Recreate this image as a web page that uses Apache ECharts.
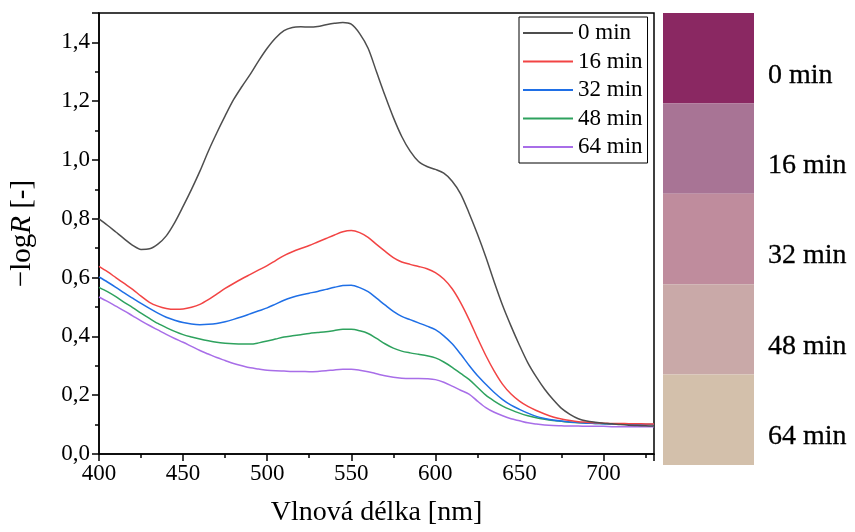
<!DOCTYPE html>
<html>
<head>
<meta charset="utf-8">
<script src="https://cdn.jsdelivr.net/npm/echarts@6/dist/echarts.min.js"></script>
<style>
  html, body { margin: 0; padding: 0; background: #fff; }
  #chart { width: 855px; height: 532px; }
</style>
</head>
<body>
<div id="chart"></div>
<script>
// Wavelength grid [nm]
const wavelengths = [400,405,410,415,420,425,430,435,440,445,450,455,460,465,470,475,480,485,490,495,
  500,505,510,515,520,525,530,535,540,545,550,555,560,565,570,575,580,585,590,595,
  600,605,610,615,620,625,630,635,640,645,650,655,660,665,670,675,680,685,690,695,
  700,705,710,715,720,725,730];

// -logR spectra after each exposure time
const min0 = [0.800,0.778,0.755,0.732,0.710,0.696,0.698,0.714,0.742,0.787,0.842,0.900,0.962,1.030,1.092,1.150,1.205,1.250,1.292,1.338,
  1.380,1.415,1.440,1.451,1.453,1.452,1.454,1.460,1.465,1.468,1.462,1.430,1.380,1.300,1.220,1.145,1.080,1.030,0.995,0.978,
  0.968,0.955,0.928,0.885,0.820,0.748,0.670,0.585,0.505,0.435,0.370,0.310,0.262,0.220,0.185,0.155,0.135,0.120,0.112,0.108,
  0.105,0.103,0.100,0.098,0.097,0.096,0.095];
const min16 = [0.638,0.620,0.600,0.580,0.560,0.537,0.516,0.503,0.495,0.492,0.493,0.499,0.509,0.525,0.544,0.563,0.580,0.596,0.611,0.626,
  0.641,0.658,0.675,0.688,0.699,0.709,0.721,0.733,0.745,0.756,0.760,0.753,0.737,0.713,0.690,0.668,0.653,0.645,0.638,0.630,
  0.617,0.595,0.562,0.515,0.458,0.395,0.335,0.282,0.237,0.204,0.180,0.162,0.148,0.136,0.126,0.119,0.114,0.110,0.108,0.106,
  0.105,0.104,0.104,0.103,0.103,0.102,0.102];
const min32 = [0.602,0.585,0.567,0.548,0.530,0.512,0.495,0.479,0.465,0.455,0.447,0.442,0.440,0.441,0.444,0.450,0.458,0.467,0.477,0.487,
  0.497,0.510,0.523,0.533,0.541,0.547,0.553,0.560,0.567,0.573,0.574,0.566,0.552,0.530,0.507,0.485,0.468,0.457,0.446,0.435,
  0.423,0.402,0.375,0.340,0.302,0.267,0.237,0.209,0.185,0.166,0.152,0.139,0.128,0.121,0.116,0.112,0.109,0.107,0.105,0.104,
  0.103,0.102,0.102,0.101,0.101,0.100,0.100];
const min48 = [0.567,0.552,0.535,0.516,0.498,0.479,0.461,0.444,0.430,0.417,0.406,0.398,0.391,0.385,0.380,0.377,0.375,0.374,0.374,0.378,
  0.384,0.391,0.398,0.402,0.406,0.410,0.413,0.416,0.420,0.424,0.424,0.419,0.410,0.393,0.375,0.360,0.350,0.344,0.339,0.334,
  0.327,0.313,0.295,0.274,0.254,0.227,0.200,0.180,0.163,0.150,0.139,0.130,0.123,0.118,0.114,0.111,0.108,0.106,0.105,0.104,
  0.103,0.102,0.102,0.101,0.101,0.100,0.100];
const min64 = [0.534,0.519,0.503,0.487,0.470,0.453,0.437,0.422,0.407,0.393,0.380,0.366,0.352,0.340,0.328,0.318,0.308,0.300,0.293,0.289,
  0.285,0.283,0.282,0.281,0.281,0.280,0.281,0.283,0.286,0.288,0.288,0.285,0.280,0.273,0.266,0.261,0.258,0.257,0.257,0.256,
  0.253,0.244,0.231,0.217,0.204,0.180,0.158,0.142,0.130,0.120,0.113,0.106,0.102,0.099,0.097,0.096,0.095,0.095,0.094,0.094,
  0.094,0.093,0.093,0.093,0.093,0.093,0.093];

const seriesNames = ['0 min','16 min','32 min','48 min','64 min'];
const lineColors  = ['#4e4e4e','#f24444','#1f6fe6','#2ea25e','#a86ee8'];

// Sample colours after each exposure time
const swatchLabels = ['0 min','16 min','32 min','48 min','64 min'];
const swatchColors = ['#8a2862','#a87495','#bf8c9d','#c9a9a8','#d3c0ab'];

const spectra = [min0, min16, min32, min48, min64];
const serif = '"Liberation Serif", "Times New Roman", serif';

const lineSeries = spectra.map((vals, i) => ({
  name: seriesNames[i],
  type: 'line',
  xAxisIndex: 0,
  yAxisIndex: 0,
  smooth: 0.3,
  symbol: 'none',
  showSymbol: false,
  lineStyle: { color: lineColors[i], width: 1.5 },
  itemStyle: { color: lineColors[i] },
  data: wavelengths.map((w, j) => [w, vals[j]]),
  z: 5 - i
}));

const chart = echarts.init(document.getElementById('chart'), null, { renderer: 'canvas' });

chart.setOption({
  backgroundColor: '#ffffff',
  animation: false,
  textStyle: { fontFamily: serif, color: '#000' },
  grid: [
    { left: 98, right: 201, top: 13, bottom: 72, show: true, borderColor: '#000', borderWidth: 1.5, backgroundColor: 'transparent' },
    { left: 663, width: 91, top: 13, height: 452 }
  ],
  legend: {
    data: seriesNames,
    orient: 'vertical',
    left: 519,
    top: 17,
    padding: [4.5, 5, 4.5, 4],
    itemGap: 5.5,
    itemWidth: 50,
    itemHeight: 2,
    icon: 'rect',
    borderColor: '#000',
    borderWidth: 1,
    backgroundColor: '#fff',
    textStyle: { fontFamily: serif, fontSize: 23, color: '#000', lineHeight: 23 }
  },
  xAxis: [
    {
      gridIndex: 0,
      type: 'value',
      min: 400,
      max: 730,
      interval: 50,
      name: 'Vlnová délka [nm]',
      nameLocation: 'middle',
      nameGap: 45,
      nameTextStyle: { fontFamily: serif, fontSize: 28, color: '#000' },
      axisLine: { show: true, onZero: false, lineStyle: { color: '#000', width: 1.5 } },
      axisTick: { show: true, inside: false, length: 7, lineStyle: { color: '#000', width: 1.5 } },
      minorTick: { show: true, splitNumber: 2, length: 4, lineStyle: { color: '#000', width: 1.5 } },
      splitLine: { show: false },
      axisLabel: {
        fontFamily: serif, fontSize: 23, color: '#000', margin: 8,
        showMaxLabel: false,
        formatter: v => String(v)
      }
    },
    {
      gridIndex: 1,
      type: 'value',
      min: 0,
      max: 1,
      show: false
    }
  ],
  yAxis: [
    {
      gridIndex: 0,
      type: 'value',
      min: 0,
      max: 1.5,
      interval: 0.2,
      name: '{n|\u2212log}{i|R}{n| [-]}',
      nameLocation: 'middle',
      nameGap: 62,
      nameRotate: 90,
      nameTextStyle: {
        rich: {
          n: { fontFamily: serif, fontSize: 29, color: '#000' },
          i: { fontFamily: serif, fontSize: 29, color: '#000', fontStyle: 'italic' }
        }
      },
      axisLine: { show: true, onZero: false, lineStyle: { color: '#000', width: 1.5 } },
      axisTick: { show: true, inside: false, length: 7, lineStyle: { color: '#000', width: 1.5 } },
      minorTick: { show: true, splitNumber: 2, length: 4, lineStyle: { color: '#000', width: 1.5 } },
      splitLine: { show: false },
      axisLabel: {
        fontFamily: serif, fontSize: 23, color: '#000', margin: 9,
        showMaxLabel: false,
        formatter: v => v.toFixed(1).replace('.', ',')
      }
    },
    {
      gridIndex: 1,
      type: 'category',
      data: swatchLabels,
      inverse: true,
      show: false
    }
  ],
  series: lineSeries.concat([{
    name: 'swatches',
    type: 'bar',
    xAxisIndex: 1,
    yAxisIndex: 1,
    barWidth: '100%',
    silent: true,
    data: swatchLabels.map((lbl, i) => ({ value: 1, itemStyle: { color: swatchColors[i] } })),
    label: {
      show: true,
      position: 'right',
      distance: 14,
      offset: [0, 17],
      formatter: '{b}',
      fontFamily: serif,
      fontSize: 28,
      color: '#000',
      textBorderColor: '#000',
      textBorderWidth: 0.3
    }
  }])
});
</script>
</body>
</html>
